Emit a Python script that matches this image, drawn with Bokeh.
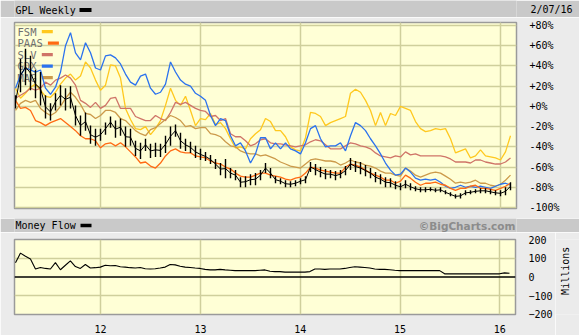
import numpy as np
from bokeh.plotting import figure
from bokeh.layouts import column, row
from bokeh.models import Range1d, FixedTicker, Label, BoxAnnotation, Span, Grid
from bokeh.embed import file_html
from bokeh.resources import INLINE

# ---------------- data (percent change, weekly samples, x in years 20xx) -------------
weeks = np.round(11.147 + 0.05 * np.arange(100), 3)

fsm = [18, 8, 13, 19, 22, 16, 10, 9, 14, 22,
       28, 32, 26, 30, 44, 38, 26, 16, 21, 41,
       40, 28, -2, -13, -22, -23, -20, -28, -22, -14,
       1, 18, 6, 1, 10, -4, -19, -12, -13, -7,
       -18, -16, -22, -32, -41, -40, -42, -32, -27, -23,
       -12, -15, -24, -24, -30, -40, -43, -44, -31, -6,
       -7, -10, -19, -16, -14, -12, -10, 13, 17, 14,
       6, -4, -19, -6, -19, -7, -9, 0, -2, -4,
       -15, -22, -25, -24, -22, -23, -22, -32, -46, -44,
       -42, -51, -49, -43, -49, -50, -51, -53, -45, -29]

paas = [6, -2, -1, -4, -14, -16, -19, -16, -14, -12,
        -16, -20, -24, -29, -32, -32, -34, -41, -37, -36,
        -39, -36, -40, -45, -50, -56, -55, -59, -61, -56,
        -49, -44, -42, -45, -46, -46, -49, -50, -51, -54,
        -56, -57, -60, -62, -66, -69, -70, -70, -68, -66,
        -66, -68, -69, -70, -72, -73, -71, -70, -66, -60,
        -61, -63, -64, -65, -66, -66, -60, -57, -58, -60,
        -63, -66, -68, -70, -73, -73, -76, -74, -68, -71,
        -75, -78, -76, -76, -75, -77, -78, -81, -83, -81,
        -81, -79, -78, -81, -81, -82, -83, -81, -79, -76]

slv = [8, 11, 14, 18, 16, 18, 24, 21, 26, 28,
       31, 28, 21, 6, 3, -1, 4, -2, 1, 8,
       9, -2, -2, -2, -10, -12, -14, -14, -9, -12,
       -14, -6, 4, 2, 4, 1, -2, -4, -5, -10,
       -9, -14, -12, -27, -30, -30, -34, -39, -37, -33,
       -32, -36, -37, -37, -38, -39, -40, -39, -38, -35,
       -33, -34, -38, -42, -42, -42, -39, -36, -37, -39,
       -40, -42, -46, -49, -50, -51, -49, -50, -45, -48,
       -47, -49, -49, -49, -49, -49, -50, -52, -55, -55,
       -55, -56, -53, -53, -55, -56, -57, -57, -55, -51]

gdx = [18, 31, 38, 36, 34, 36, 18, 12, 19, 34,
       60, 73, 53, 46, 63, 53, 38, 36, 50, 51,
       48, 42, 32, 24, 21, 30, 32, 18, 12, 14,
       22, 44, 34, 26, 22, 20, 13, 10, 6, -9,
       -19, -12, -14, -29, -39, -36, -44, -56, -47, -31,
       -31, -42, -36, -42, -36, -42, -44, -47, -36, -22,
       -19, -32, -40, -39, -39, -36, -44, -29, -16, -19,
       -24, -32, -39, -47, -56, -63, -68, -67, -61, -65,
       -71, -73, -72, -73, -72, -75, -79, -81, -80, -78,
       -80, -79, -80, -79, -80, -81, -79, -77, -76, -78]

mag = [-4, 3, 6, 4, 6, -2, -6, -9, -6, 0,
       8, 14, 9, 2, -7, -8, -12, -9, -4, -4,
       -6, -12, -14, -19, -24, -27, -29, -23, -21, -17,
       -13, -9, -11, -14, -20, -19, -22, -21, -21, -27,
       -28, -30, -35, -39, -40, -44, -46, -47, -47, -49,
       -48, -50, -52, -55, -57, -59, -60, -61, -57, -53,
       -52, -53, -54, -54, -55, -58, -56, -53, -55, -56,
       -58, -59, -61, -64, -66, -66, -68, -69, -61, -64,
       -68, -70, -68, -66, -65, -66, -69, -72, -76, -75,
       -76, -75, -73, -76, -76, -78, -79, -77, -73, -68]

gpl_hi = [11, 47, 57, 50, 36, 34, 11, 3, 13, 21,
          18, 20, 1, -9, -6, -19, -22, -22, -16, -10,
          -14, -12, -20, -22, -34, -36, -32, -37, -36, -37,
          -29, -20, -18, -26, -32, -35, -39, -42, -45, -48,
          -52, -56, -52, -61, -63, -70, -69, -67, -66, -63,
          -56, -61, -69, -71, -73, -74, -73, -71, -69, -55,
          -57, -60, -62, -63, -64, -63, -59, -51, -54, -55,
          -58, -61, -65, -67, -70, -71, -74, -76, -73, -76,
          -79, -80, -80, -80, -81, -80, -83, -85, -87, -86,
          -83, -83, -82, -81, -81, -82, -83, -83, -80, -75]

gpl_lo = [-2, 14, 21, 16, 8, 1, -12, -14, -4, 1,
          -4, -2, -19, -29, -24, -37, -39, -34, -28, -21,
          -31, -29, -40, -39, -49, -52, -44, -51, -50, -50,
          -46, -39, -30, -42, -44, -46, -51, -53, -54, -57,
          -62, -68, -71, -71, -73, -80, -80, -78, -78, -73,
          -66, -71, -76, -77, -80, -80, -79, -77, -76, -65,
          -68, -70, -72, -71, -73, -71, -68, -63, -65, -67,
          -69, -71, -75, -77, -80, -80, -82, -83, -81, -83,
          -84, -85, -85, -84, -85, -85, -87, -89, -91, -91,
          -88, -87, -86, -86, -86, -87, -88, -89, -88, -83]

money_flow = [77, 128, 111, 97, 43, 51, 46, 43, 77, 39,
              63, 86, 56, 46, 67, 48, 50, 53, 63, 60,
              62, 55, 53, 50, 48, 51, 44, 43, 44, 48,
              53, 67, 65, 58, 53, 51, 48, 46, 41, 38,
              38, 41, 38, 36, 34, 34, 34, 34, 34, 36,
              38, 31, 29, 29, 26, 26, 26, 26, 26, 29,
              43, 43, 41, 43, 43, 43, 46, 51, 55, 53,
              51, 48, 43, 41, 41, 39, 36, 34, 34, 34,
              34, 34, 34, 34, 34, 34, 17, 17, 17, 17,
              17, 17, 17, 17, 17, 17, 17, 17, 22, 20]

series_names = ["FSM", "PAAS", "SLV", "GDX", "MAG"]
series_colors = ["#ffc81e", "#ff6a13", "#cf7468", "#2b72ee", "#cc9a4a"]
year_ticks = [12, 13, 14, 15, 16]
pct_ticks = [-100, -80, -60, -40, -20, 0, 20, 40, 60, 80]
pct_labels = ["-100%", "-80%", "-60%", "-40%", "-20%", "+0%", "+20%", "+40%", "+60%", "+80%"]
mf_ticks = [-200, -100, 0, 100, 200]

# ---------------- styling -------------
W = 579
SIDE = 24
GRAY = "#ebebeb"
BAR = "#c9c9c9"
PLOT_BG = "#ffffd6"
GRID = "#cfcf9c"
MONO = "DejaVu Sans Mono"
FS = "10px"
X_LO, X_HI = 11.137, 16.157
BL, BR = 14, 63   # left / right borders (frame spans x 14..516)


def header(height, right_text=None):
    h = figure(width=W, height=height, output_backend="svg", toolbar_location=None,
               x_range=Range1d(BL, W - BR), y_range=Range1d(0, height),
               min_border_left=BL, min_border_right=BR, min_border_top=0,
               min_border_bottom=0, x_axis_location=None,
               y_axis_location="right" if right_text else None)
    h.background_fill_color = BAR
    h.border_fill_color = BAR
    h.outline_line_color = None
    h.grid.visible = False
    if right_text:
        mid = height / 2.0 - 0.5
        h.yaxis.ticker = FixedTicker(ticks=[mid])
        h.yaxis.major_label_overrides = {mid: right_text}
        h.yaxis.axis_line_color = None
        h.yaxis.major_tick_line_color = None
        h.yaxis.minor_tick_line_color = None
        h.yaxis.major_label_standoff = 8
        h.yaxis.major_label_text_font = MONO
        h.yaxis.major_label_text_font_size = FS
        h.yaxis.major_label_text_color = "black"
    return h


# header 1  (y 0..17)
h1 = header(17, "2/07/16")
h1.add_layout(Label(x=15, y=7.5, text="GPL Weekly", text_font=MONO, text_font_size=FS,
                    text_baseline="middle", text_color="black"))
h1.add_layout(BoxAnnotation(left=79, right=91, bottom=5.6, top=9.4, fill_color="black",
                            fill_alpha=1, line_color=None))

# main chart (y 17..218, frame 22..208)
p = figure(width=W, height=201, output_backend="svg", toolbar_location=None,
           x_range=Range1d(X_LO, X_HI), y_range=Range1d(-101, 83),
           min_border_left=BL, min_border_right=BR, min_border_top=5, min_border_bottom=10,
           x_axis_location=None, y_axis_location="right")
p.background_fill_color = PLOT_BG
p.border_fill_color = GRAY
p.outline_line_color = "#9a9a9a"
p.outline_line_width = 1.5
p.yaxis.ticker = FixedTicker(ticks=pct_ticks)
p.yaxis.major_label_overrides = {t: l for t, l in zip(pct_ticks, pct_labels)}
p.yaxis.axis_line_color = None
p.yaxis.major_tick_line_color = None
p.yaxis.minor_tick_line_color = None
p.yaxis.major_label_standoff = 7
p.yaxis.major_label_text_font = MONO
p.yaxis.major_label_text_font_size = FS
p.yaxis.major_label_text_color = "black"
p.ygrid.ticker = FixedTicker(ticks=pct_ticks)
p.ygrid.grid_line_color = GRID
p.ygrid.grid_line_width = 1.5
p.add_layout(Grid(dimension=0, ticker=FixedTicker(ticks=year_ticks),
                  grid_line_color=GRID, grid_line_width=1.5))

# legend (drawn under the lines)
leg_y = [74, 62.6, 51.2, 39.8, 28.4]
for name, color, yy in zip(series_names, series_colors, leg_y):
    p.add_layout(Label(x=11.167, y=yy, text=name, text_font=MONO, text_font_size="10.5px",
                       text_baseline="middle", text_color="#707070", level="underlay"))
    x0 = 11.167 + (len(name) * 6.1 + 6) / 100.0
    p.add_layout(BoxAnnotation(left=x0, right=x0 + 0.11, bottom=yy - 1.6, top=yy + 1.6,
                               fill_color=color, fill_alpha=1, line_color=None,
                               level="underlay"))

for arr, color in zip([fsm, slv, mag, gdx, paas], [series_colors[0], series_colors[2],
                                                    series_colors[4], series_colors[3],
                                                    series_colors[1]]):
    p.line(weeks, arr, line_color=color, line_width=1.3)

gpl_mid = (np.array(gpl_hi) + np.array(gpl_lo)) / 2.0
p.segment(x0=weeks, y0=gpl_lo, x1=weeks, y1=gpl_hi, line_color="black", line_width=1.4)
p.line(weeks, gpl_mid, line_color="black", line_width=1.0)

# header 2 (y 218..232)
h2 = header(14)
h2.add_layout(Label(x=15, y=7, text="Money Flow", text_font=MONO, text_font_size=FS,
                    text_baseline="middle", text_color="black"))
h2.add_layout(BoxAnnotation(left=80, right=91, bottom=5.3, top=8.7, fill_color="black",
                            fill_alpha=1, line_color=None))
h2.add_layout(Label(x=515, y=7, text="\u00a9BigCharts.com", text_font="DejaVu Sans",
                    text_font_style="bold", text_font_size="10.5px", text_baseline="middle",
                    text_align="right", text_color="#8c8c8c"))

# money flow panel (y 232..335, frame 239..317)
m = figure(width=W - SIDE, height=103, output_backend="svg", toolbar_location=None,
           x_range=Range1d(X_LO, X_HI), y_range=Range1d(-201, 201),
           min_border_left=BL, min_border_right=BR - SIDE, min_border_top=7,
           min_border_bottom=18, x_axis_location="below", y_axis_location="right")
m.background_fill_color = PLOT_BG
m.border_fill_color = GRAY
m.outline_line_color = "#9a9a9a"
m.outline_line_width = 1.5
m.yaxis.ticker = FixedTicker(ticks=mf_ticks)
m.xaxis.ticker = FixedTicker(ticks=year_ticks)
for ax in (m.xaxis, m.yaxis):
    ax.axis_line_color = None
    ax.major_tick_line_color = None
    ax.minor_tick_line_color = None
    ax.major_label_text_font = MONO
    ax.major_label_text_font_size = FS
    ax.major_label_text_color = "black"
m.yaxis.major_label_standoff = 7
m.xaxis.major_label_standoff = 4
m.ygrid.ticker = FixedTicker(ticks=[-100, 100])
m.ygrid.grid_line_color = GRID
m.ygrid.grid_line_width = 1.5
m.xgrid.ticker = FixedTicker(ticks=year_ticks)
m.xgrid.grid_line_color = GRID
m.xgrid.grid_line_width = 1.5
m.add_layout(Span(location=0, dimension="width", line_color="black", line_width=1.5))
m.line(weeks, money_flow, line_color="black", line_width=1.1)

# narrow side strip holding the rotated unit label
s = figure(width=SIDE, height=103, output_backend="svg", toolbar_location=None,
           x_range=Range1d(0, SIDE), y_range=Range1d(0, 103),
           min_border_left=0, min_border_right=0, min_border_top=0, min_border_bottom=0,
           x_axis_location=None, y_axis_location=None)
s.background_fill_color = GRAY
s.border_fill_color = GRAY
s.outline_line_color = None
s.grid.visible = False
s.add_layout(Label(x=10, y=60, text="Millions", angle=np.pi / 2, text_font=MONO,
                   text_font_size=FS, text_align="center", text_baseline="middle",
                   text_color="black"))

layout = column(h1, p, h2, row(m, s, spacing=0), spacing=0)
open("out.html", "w").write(file_html(layout, INLINE))
